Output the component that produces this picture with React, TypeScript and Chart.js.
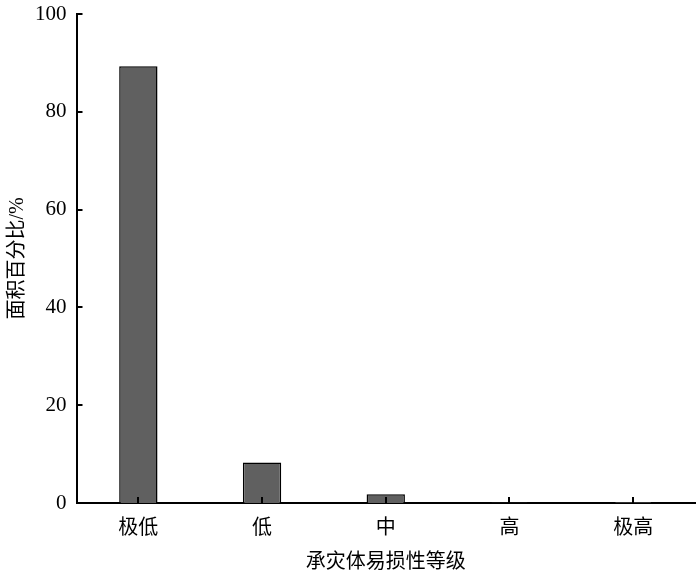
import React, { useEffect, useRef } from "react";
import { Chart, registerables } from "chart.js";

Chart.register(...registerables);

const categories = ["极低", "低", "中", "高", "极高"];
const areaPercent = [89.3, 8.3, 1.8, 0.1, 0.2];
const yTicks = [0, 20, 40, 60, 80, 100];

const FONT = "'Liberation Serif', 'Times New Roman', 'Noto Sans CJK SC', serif";

const inwardTicks = {
  id: "inwardTicks",
  afterDraw(chart: any) {
    const ctx = chart.ctx;
    const x = chart.scales.x;
    const y = chart.scales.y;
    ctx.save();
    ctx.strokeStyle = "#000";
    ctx.lineWidth = 2;
    ctx.beginPath();
    for (let i = 0; i < categories.length; i++) {
      const px = Math.round(x.getPixelForValue(i));
      ctx.moveTo(px, y.bottom);
      ctx.lineTo(px, y.bottom - 6);
    }
    for (const v of yTicks) {
      const py = Math.round(y.getPixelForValue(v));
      ctx.moveTo(x.left, py);
      ctx.lineTo(x.left + 6, py);
    }
    ctx.stroke();
    ctx.restore();
  },
};

export default function App() {
  const ref = useRef<HTMLCanvasElement>(null);
  useEffect(() => {
    const chart = new Chart(ref.current!, {
      type: "bar",
      data: {
        labels: categories,
        datasets: [
          {
            data: areaPercent,
            backgroundColor: "#606060",
            borderColor: "#000",
            borderWidth: 1.5,
            barPercentage: 0.31,
            categoryPercentage: 1,
          },
        ],
      },
      options: {
        animation: false,
        responsive: false,
        layout: { padding: { top: 14, right: 5, left: 8, bottom: 2 } },
        plugins: { legend: { display: false }, tooltip: { enabled: false } },
        scales: {
          x: {
            grid: { display: false, drawTicks: false },
            border: { display: true, color: "#000", width: 2 },
            ticks: { color: "#000", font: { family: FONT, size: 20 }, padding: 14 },
            title: {
              display: true,
              text: "承灾体易损性等级",
              color: "#000",
              font: { family: FONT, size: 20, lineHeight: 1 },
              padding: { top: -2, bottom: 0 },
            },
          },
          y: {
            min: 0,
            max: 100,
            afterBuildTicks: (axis: any) => {
              axis.ticks = yTicks.map((v) => ({ value: v }));
            },
            afterFit: (s: any) => {
              s.paddingTop = 0;
              s.paddingBottom = 0;
            },
            grid: { display: false, drawTicks: false },
            border: { display: true, color: "#000", width: 2 },
            ticks: { color: "#000", font: { family: FONT, size: 21, lineHeight: 1 }, padding: 10 },
            title: {
              display: true,
              text: "面积百分比/%",
              color: "#000",
              font: { family: FONT, size: 20, lineHeight: 1 },
              padding: { top: 0, bottom: -3 },
            },
          },
        },
      },
      plugins: [inwardTicks],
    });
    return () => chart.destroy();
  }, []);
  return (
    <div style={{ position: "fixed", left: 0, top: 0, width: 700, height: 575, background: "#fff" }}>
      <canvas ref={ref} width={700} height={575} />
    </div>
  );
}
